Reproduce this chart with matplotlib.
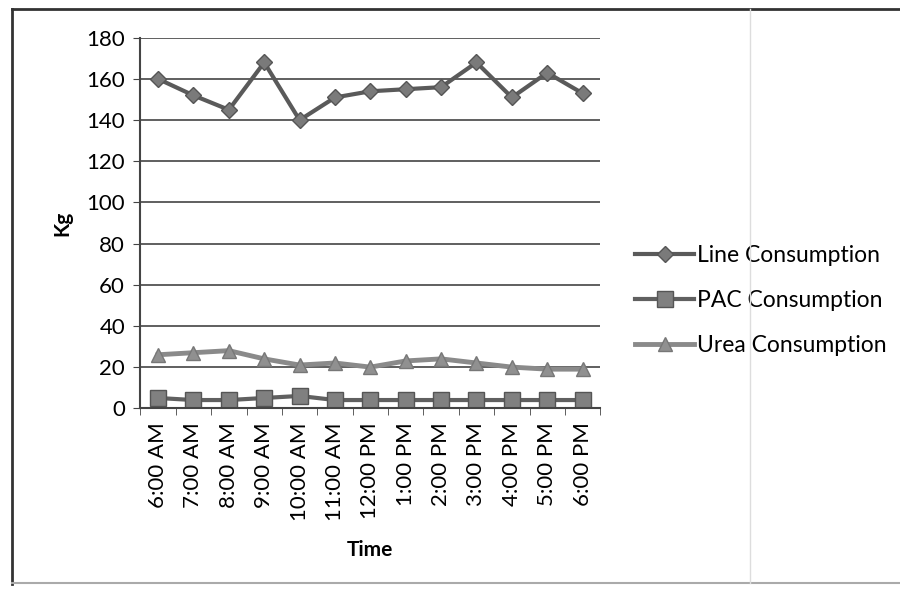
import matplotlib.pyplot as plt
import numpy as np
from matplotlib.lines import Line2D

plt.rcParams['font.family'] = ['Lato', 'DejaVu Sans']

times = ['6:00 AM', '7:00 AM', '8:00 AM', '9:00 AM', '10:00 AM', '11:00 AM',
         '12:00 PM', '1:00 PM', '2:00 PM', '3:00 PM', '4:00 PM', '5:00 PM', '6:00 PM']
line_cons = [160, 152, 145, 168, 140, 151, 154, 155, 156, 168, 151, 163, 153]
pac_cons = [5, 4, 4, 5, 6, 4, 4, 4, 4, 4, 4, 4, 4]
urea_cons = [26, 27, 28, 24, 21, 22, 20, 23, 24, 22, 20, 19, 19]

fig = plt.figure(figsize=(9, 5.9), dpi=100)
ax = fig.add_axes([0.156, 0.308, 0.511, 0.628])

x = np.arange(len(times))
ax.plot(x, line_cons, color='#5a5a5a', lw=3, marker='D', ms=8,
        mfc='#7a7a7a', mec='#555555', label='Line Consumption')
ax.plot(x, pac_cons, color='#606060', lw=3, marker='s', ms=11,
        mfc='#808080', mec='#555555', label='PAC Consumption')
ax.plot(x, urea_cons, color='#8a8a8a', lw=3.5, marker='^', ms=10,
        mfc='#909090', mec='#777777', label='Urea Consumption')

ax.set_ylim(0, 180)
ax.set_yticks(range(0, 181, 20))
ax.set_xlim(-0.5, len(times) - 0.5)
ax.set_xticks(x)
ax.set_xticklabels(times, rotation=90, fontsize=16)
ax.set_xticks(np.arange(-0.5, len(times), 1), minor=True)
ax.tick_params(axis='x', which='major', length=0, pad=10)
ax.tick_params(axis='x', which='minor', length=5, color='#444444')
ax.tick_params(axis='y', length=5, color='#444444', labelsize=16, pad=6)
ax.grid(axis='y', color='#444444', lw=1.2)
ax.set_axisbelow(True)
for s in ['top', 'right']:
    ax.spines[s].set_visible(False)
for s in ['left', 'bottom']:
    ax.spines[s].set_color('#444444')
    ax.spines[s].set_linewidth(1.5)

ax.set_ylabel('Kg', fontsize=15, fontweight='bold', labelpad=10)
ax.set_xlabel('Time', fontsize=15, fontweight='bold', labelpad=14)

ax.legend(loc='center left', bbox_to_anchor=(1.03, 0.29), frameon=False,
          fontsize=16.5, handlelength=2.6, handletextpad=0.1, labelspacing=1.05)

# outer frame of the chart
fig.add_artist(Line2D([0.013, 0.013], [0.01, 0.985], color='#333333', lw=2))
fig.add_artist(Line2D([0.013, 1.0], [0.985, 0.985], color='#333333', lw=2))
fig.add_artist(Line2D([0.013, 1.0], [0.012, 0.012], color='#aaaaaa', lw=1.5))
fig.add_artist(Line2D([0.833, 0.833], [0.012, 0.985], color='#dddddd', lw=1))

fig.savefig('out.png', dpi=100)
